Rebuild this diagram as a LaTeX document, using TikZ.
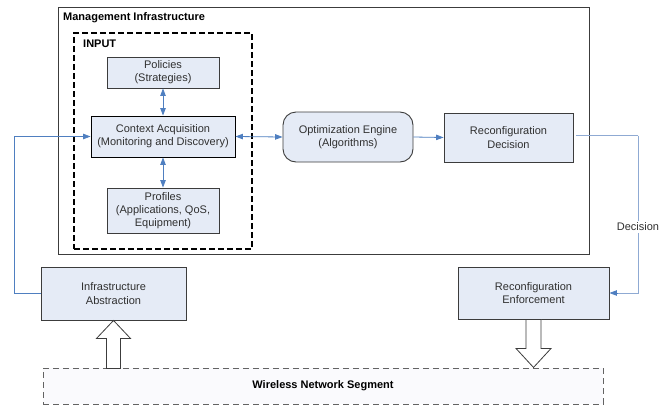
\documentclass[tikz,border=0pt]{standalone}
\usepackage{fontspec}
\setmainfont{Liberation Sans}
\usetikzlibrary{arrows.meta,calc}

\definecolor{boxfill}{HTML}{E5EBF6}
\definecolor{boxline}{HTML}{3C3C3C}
\definecolor{txt}{HTML}{303030}
\definecolor{flow}{HTML}{4F7FC0}
\definecolor{flowlight}{HTML}{8FAAD3}
\definecolor{segfill}{HTML}{FAFAFD}

\tikzset{
  lbl/.style={font=\fontsize{11}{13.3}\selectfont, text=txt, align=center, inner sep=0pt},
  blk/.style={lbl, draw=boxline, line width=0.9pt, fill=boxfill, rectangle},
  roundblk/.style={blk, rounded corners=13pt},
  title/.style={font=\fontsize{11}{12}\selectfont\bfseries, text=black, inner sep=0pt, anchor=west},
  flowline/.style={draw=flow, line width=0.8pt},
  tip/.style={-{Triangle[length=7.5pt,width=5.5pt]}},
  bothtips/.style={{Triangle[length=7.5pt,width=5.5pt]}-{Triangle[length=7.5pt,width=5.5pt]}},
  hollow/.style={draw=boxline, line width=0.8pt, fill=white},
}

\begin{document}
\begin{tikzpicture}[x=1pt,y=-1pt]
\useasboundingbox (0,0) rectangle (671,407);

% management frame and input group
\node[draw=boxline, line width=0.8pt, minimum width=531pt, minimum height=247pt, inner sep=0pt] (mgmt) at (323.5,130.5) {};
\node[title] (mgmtlbl) at (63,18) {Management Infrastructure};
\node[draw=black, line width=1.6pt, dash pattern=on 6pt off 3pt, minimum width=178pt, minimum height=216pt, inner sep=0pt] (input) at (163,141) {};
\node[title] (inputlbl) at (83,44) {INPUT};

% input blocks
\node[blk, minimum width=112pt, minimum height=31pt] (pol) at (163,72.5) {Policies\\(Strategies)};
\node[blk, draw=black, minimum width=144pt, minimum height=41pt] (ctx) at (163,136.5) {Context Acquisition\\(Monitoring and Discovery)};
\node[blk, minimum width=112pt, minimum height=45pt] (prof) at (163,210.5) {Profiles\\(Applications, QoS,\\Equipment)};

% processing blocks
\node[roundblk, minimum width=130pt, minimum height=50pt] (opt) at (348,137) {Optimization Engine\\(Algorithms)};
\node[blk, minimum width=129pt, minimum height=49pt] (rdec) at (508.5,137.5) {Reconfiguration\\Decision};

% blocks outside the frame
\node[blk, minimum width=145pt, minimum height=53pt] (ia) at (113.5,293.5) {Infrastructure\\Abstraction};
\node[blk, minimum width=151pt, minimum height=52pt] (re) at (533.5,293) {Reconfiguration\\Enforcement};

% network segment
\node[draw=boxline!80, line width=0.8pt, dash pattern=on 6pt off 4pt, fill=segfill, minimum width=560pt, minimum height=36pt, inner sep=0pt, font=\fontsize{11}{12}\selectfont\bfseries, text=black] (wns) at (323,386) {Wireless Network Segment};

% connectors
\draw[flowline, bothtips] (pol.south) -- (ctx.north);
\draw[flowline, bothtips] (ctx.south) -- (prof.north);
\draw[flowline, bothtips] (ctx.east) -- (opt.west);
\draw[flowline, tip] (opt.east) -- (rdec.east -| rdec.west);
\draw[flowline, tip] (ia.west) -- ++(-26,0) |- (ctx.west);
\draw[draw=flowlight, line width=0.9pt] (rdec.east) ++(3,-2) coordinate (rstart) -- ++(62,0) coordinate (rcorner);
\draw[draw=flowlight, line width=0.9pt] (rcorner) |- ([xshift=9pt]re.east) coordinate (rend);
\draw[flowline, tip] (rend) -- (re.east);
\node[lbl, fill=white, inner sep=2pt] (declbl) at (638,227) {Decision};

% hollow block arrows to and from the network segment
\draw[hollow] (ia.south) -- ++(17,18) -- ++(-10,0) -- ++(0,30) -- ++(-14,0) -- ++(0,-30) -- ++(-10,0) -- cycle;
\draw[hollow] ([xshift=-7.5pt]re.south) -- ++(15,0) -- ++(0,29) -- ++(10,0) -- ++(-17.5,19) -- ++(-17.5,-19) -- ++(10,0) -- cycle;
\end{tikzpicture}
\end{document}
